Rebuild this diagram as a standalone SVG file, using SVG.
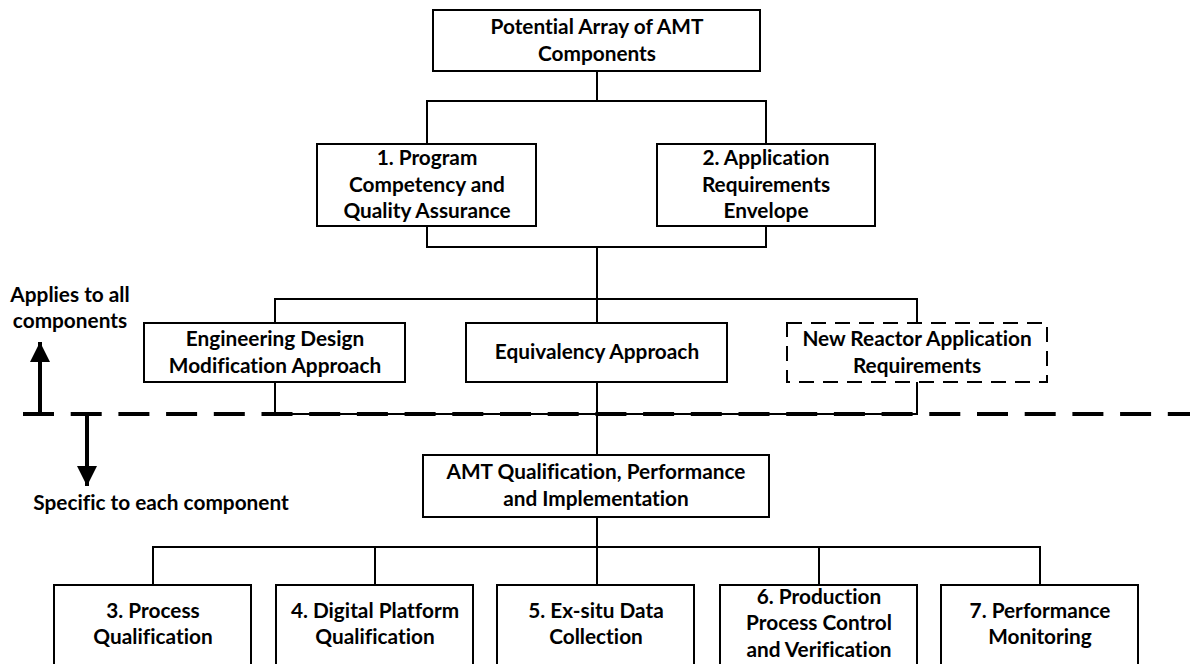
<svg xmlns="http://www.w3.org/2000/svg" width="1190" height="664" viewBox="0 0 1190 664">
  <style>
    .box { fill: #ffffff; stroke: #000000; stroke-width: 2; }
    .dbox { fill: #ffffff; stroke: #000000; stroke-width: 2; stroke-dasharray: 15 9; }
    .wire { fill: none; stroke: #000000; stroke-width: 2; }
    .t { font-family: Lato, "Liberation Sans", sans-serif; font-weight: bold; font-size: 20.8px; fill: #000000; text-anchor: middle; font-variant-ligatures: none; }
  </style>
  <defs>
    <marker id="head" viewBox="0 0 10 10" refX="10" refY="5" markerWidth="5" markerHeight="5" markerUnits="strokeWidth" orient="auto">
      <path d="M0,0 L10,5 L0,10 Z" fill="#000000"/>
    </marker>
  </defs>

  <rect width="1190" height="664" fill="#ffffff"/>

  <!-- connectors -->
  <g id="connectors">
    <path class="wire" d="M597,71 V101 M427,144 V101 H766 V144"/>
    <path class="wire" d="M427,226 V247 H766 V226 M597,247 V299"/>
    <path class="wire" d="M275,323 V299 H917 V323 M597,299 V323"/>
    <path class="wire" d="M275,382 V414 H917 V382 M597,382 V455"/>
    <path class="wire" d="M597,517 V547 M153,585 V547 H1040 V585 M375,547 V585 M597,547 V585 M819,547 V585"/>
  </g>

  <!-- boundary between shared and per-component scope -->
  <g id="scope-divider">
    <line x1="23" y1="414" x2="1190" y2="414" stroke="#000000" stroke-width="4" stroke-dasharray="31 16.7"/>
    <line x1="40" y1="414" x2="40" y2="342" stroke="#000000" stroke-width="4" marker-end="url(#head)"/>
    <line x1="87" y1="414" x2="87" y2="486" stroke="#000000" stroke-width="4" marker-end="url(#head)"/>
    <text class="t" x="70" y="302">Applies to all</text>
    <text class="t" x="70" y="328">components</text>
    <text class="t" x="161" y="510">Specific to each component</text>
  </g>

  <g id="potential-array">
    <rect class="box" x="433" y="10" width="327" height="61"/>
    <text class="t" x="597" y="34">Potential Array of AMT</text>
    <text class="t" x="597" y="61">Components</text>
  </g>

  <g id="program-competency">
    <rect class="box" x="317" y="144" width="219" height="82"/>
    <text class="t" x="427" y="165">1. Program</text>
    <text class="t" x="427" y="192">Competency and</text>
    <text class="t" x="427" y="218">Quality Assurance</text>
  </g>

  <g id="application-envelope">
    <rect class="box" x="657" y="144" width="218" height="82"/>
    <text class="t" x="766" y="165">2. Application</text>
    <text class="t" x="766" y="192">Requirements</text>
    <text class="t" x="766" y="218">Envelope</text>
  </g>

  <g id="engineering-design">
    <rect class="box" x="144" y="323" width="261" height="59"/>
    <text class="t" x="275" y="346">Engineering Design</text>
    <text class="t" x="275" y="373">Modification Approach</text>
  </g>

  <g id="equivalency">
    <rect class="box" x="466" y="323" width="261" height="59"/>
    <text class="t" x="597" y="359">Equivalency Approach</text>
  </g>

  <g id="new-reactor">
    <rect class="dbox" x="787" y="323" width="260" height="59"/>
    <text class="t" x="917" y="346">New Reactor Application</text>
    <text class="t" x="917" y="373">Requirements</text>
  </g>

  <g id="amt-qualification">
    <rect class="box" x="423" y="455" width="346" height="62"/>
    <text class="t" x="596" y="479">AMT Qualification, Performance</text>
    <text class="t" x="596" y="506">and Implementation</text>
  </g>

  <g id="process-qualification">
    <rect class="box" x="54" y="585" width="197" height="90"/>
    <text class="t" x="153" y="618">3. Process</text>
    <text class="t" x="153" y="644">Qualification</text>
  </g>

  <g id="digital-platform">
    <rect class="box" x="276" y="585" width="197" height="90"/>
    <text class="t" x="375" y="618">4. Digital Platform</text>
    <text class="t" x="375" y="644">Qualification</text>
  </g>

  <g id="ex-situ-data">
    <rect class="box" x="497" y="585" width="197" height="90"/>
    <text class="t" x="596" y="618">5. Ex-situ Data</text>
    <text class="t" x="596" y="644">Collection</text>
  </g>

  <g id="production-control">
    <rect class="box" x="720" y="585" width="197" height="90"/>
    <text class="t" x="819" y="604">6. Production</text>
    <text class="t" x="819" y="630">Process Control</text>
    <text class="t" x="819" y="657">and Verification</text>
  </g>

  <g id="performance-monitoring">
    <rect class="box" x="941" y="585" width="197" height="90"/>
    <text class="t" x="1040" y="618">7. Performance</text>
    <text class="t" x="1040" y="644">Monitoring</text>
  </g>
</svg>
